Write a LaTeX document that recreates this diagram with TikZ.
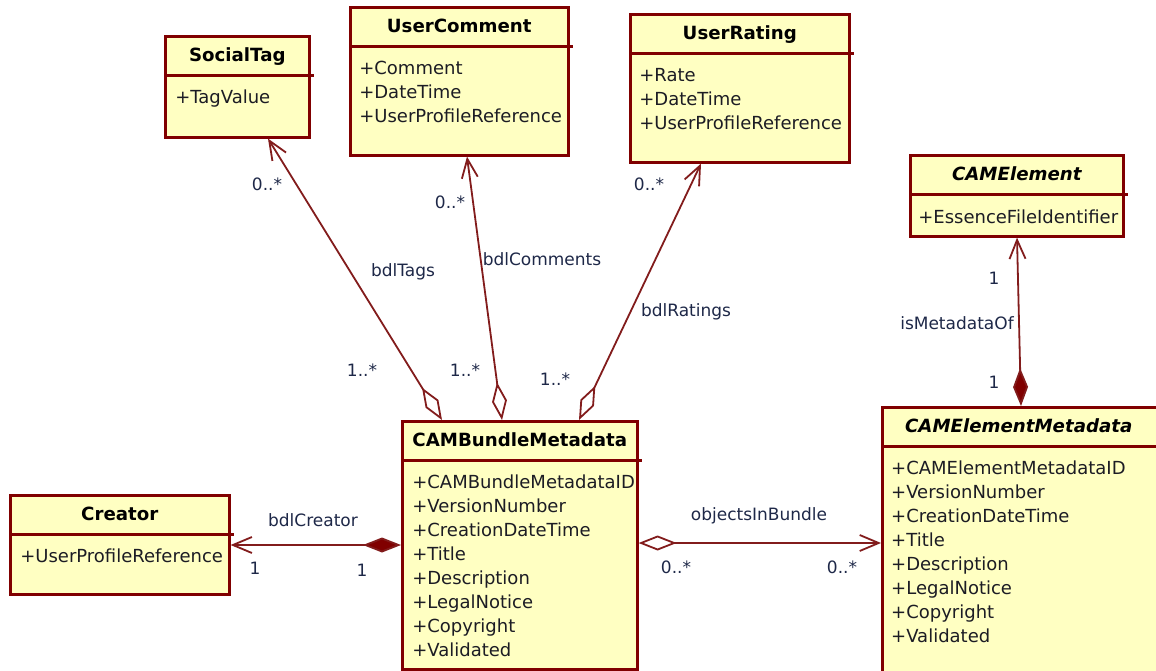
\documentclass[tikz,border=0pt]{standalone}
\usepackage{fontspec}
\setmainfont{DejaVu Sans}
\usetikzlibrary{arrows.meta,positioning}

\definecolor{umlborder}{RGB}{128,0,0}
\definecolor{umlfill}{RGB}{255,255,194}
\definecolor{umlline}{RGB}{130,28,28}
\definecolor{umltext}{RGB}{28,28,36}
\definecolor{umllabel}{RGB}{30,40,72}

\begin{document}
\begin{tikzpicture}[
  x=1pt, y=-1pt,
  cls/.style={draw=umlborder, fill=umlfill, line width=2.6pt, anchor=north west, inner sep=0pt},
  hd/.style={anchor=north, minimum height=40pt, inner sep=0pt, text height=12.7pt, text depth=0pt, font=\fontsize{18.2}{21}\selectfont\bfseries},
  hdi/.style={hd, font=\fontsize{18.2}{21}\selectfont\bfseries\itshape},
  sep/.style={draw=umlborder, line width=2.4pt},
  attrs/.style={align=left, inner sep=0pt, text=umltext, font=\fontsize{18}{24}\selectfont},
  lbl/.style={text=umllabel, inner sep=0pt, font=\fontsize{17}{20}\selectfont},
  assoc/.style={draw=umlline, line width=1.8pt},
  agg/.style={assoc, {Diamond[open, length=38pt, width=15pt]}-{Straight Barb[length=19pt, width=16pt]}},
  comp/.style={assoc, {Diamond[length=38pt, width=15pt, fill=umlborder]}-{Straight Barb[length=19pt, width=16pt]}}
]
\useasboundingbox (0,0) rectangle (1156,671);

% classes
\node[cls, minimum width=144pt, minimum height=101pt] (tag) at (164,35) {};
\node[hd, minimum width=144pt] (taghd) at (tag.north) {SocialTag};
\draw[sep] (taghd.south west) -- ([xshift=4pt]taghd.south east);
\node[attrs, below right=11pt and 10pt of taghd.south west] (tagat) {\strut+TagValue};

\node[cls, minimum width=218pt, minimum height=148pt] (cmt) at (349,6) {};
\node[hd, minimum width=218pt] (cmthd) at (cmt.north) {UserComment};
\draw[sep] (cmthd.south west) -- ([xshift=4pt]cmthd.south east);
\node[attrs, below right=11pt and 9pt of cmthd.south west] (cmtat) {\strut+Comment\\+DateTime\\+UserProfileReference};

\node[cls, minimum width=219pt, minimum height=148pt] (rate) at (629,13) {};
\node[hd, minimum width=219pt] (ratehd) at (rate.north) {UserRating};
\draw[sep] (ratehd.south west) -- ([xshift=4pt]ratehd.south east);
\node[attrs, below right=11pt and 9pt of ratehd.south west] (rateat) {\strut+Rate\\+DateTime\\+UserProfileReference};

\node[cls, minimum width=213pt, minimum height=81pt] (elem) at (909,154) {};
\node[hdi, minimum width=213pt] (elemhd) at (elem.north) {CAMElement};
\draw[sep] (elemhd.south west) -- ([xshift=4pt]elemhd.south east);
\node[attrs, below right=12pt and 8pt of elemhd.south west] (elemat) {\strut+EssenceFileIdentifier};

\node[cls, minimum width=235pt, minimum height=248pt] (bundle) at (401,420) {};
\node[hd, minimum width=235pt] (bundlehd) at (bundle.north) {CAMBundleMetadata};
\draw[sep] (bundlehd.south west) -- ([xshift=4pt]bundlehd.south east);
\node[attrs, below right=11pt and 10pt of bundlehd.south west] (bundleat) {\strut+CAMBundleMetadataID\\+VersionNumber\\+CreationDateTime\\+Title\\+Description\\+LegalNotice\\+Copyright\\+Validated};

\node[cls, minimum width=219pt, minimum height=99pt] (creator) at (9,494) {};
\node[hd, minimum width=219pt] (creatorhd) at (creator.north) {Creator};
\draw[sep] (creatorhd.south west) -- ([xshift=4pt]creatorhd.south east);
\node[attrs, below right=11pt and 10pt of creatorhd.south west] (creatorat) {\strut+UserProfileReference};

\node[cls, minimum width=290pt, minimum height=290pt] (elmeta) at (881,406) {};
\node[hdi, minimum width=275pt, anchor=north west] (elmetahd) at (elmeta.north west) {CAMElementMetadata};
\draw[sep] (elmetahd.south west) -- ([xshift=20pt]elmetahd.south east);
\node[attrs, below right=11pt and 10pt of elmetahd.south west] (elmetaat) {\strut+CAMElementMetadataID\\+VersionNumber\\+CreationDateTime\\+Title\\+Description\\+LegalNotice\\+Copyright\\+Validated};

% associations
\draw[agg] ([xshift=41pt]bundle.north west) -- ([xshift=104pt]tag.south west);
\draw[agg] ([xshift=101pt]bundle.north west) -- ([xshift=118pt]cmt.south west);
\draw[agg] ([xshift=178pt]bundle.north west) -- ([xshift=72pt]rate.south west);
\draw[comp] ([xshift=140pt]elmeta.north west) -- ([xshift=108pt]elem.south west);
\draw[comp] ([yshift=-125pt]bundle.north west) -- ([yshift=-51pt]creator.north east);
\draw[agg] ([yshift=-123pt]bundle.north east) -- ([yshift=-137pt]elmeta.north west);

% labels
\node[lbl] (tagsto) at (267,184) {0..*};
\node[lbl] (tagsname) at (403,272) {bdlTags};
\node[lbl] (tagsfrom) at (362,370) {1..*};
\node[lbl] (cmtto) at (450,202) {0..*};
\node[lbl] (cmtname) at (542,259) {bdlComments};
\node[lbl] (cmtfrom) at (465,370) {1..*};
\node[lbl] (rateto) at (649,184) {0..*};
\node[lbl] (ratename) at (686,312) {bdlRatings};
\node[lbl] (ratefrom) at (555,379) {1..*};
\node[lbl] (elemto) at (994,278) {1};
\node[lbl] (elemname) at (957,323) {isMetadataOf};
\node[lbl] (elemfrom) at (994,382) {1};
\node[lbl] (creatorname) at (313,520) {bdlCreator};
\node[lbl] (creatorto) at (255,568) {1};
\node[lbl] (creatorfrom) at (362,570) {1};
\node[lbl] (objname) at (759,516) {objectsInBundle};
\node[lbl] (objfrom) at (676,567) {0..*};
\node[lbl] (objto) at (842,567) {0..*};
\end{tikzpicture}
\end{document}
